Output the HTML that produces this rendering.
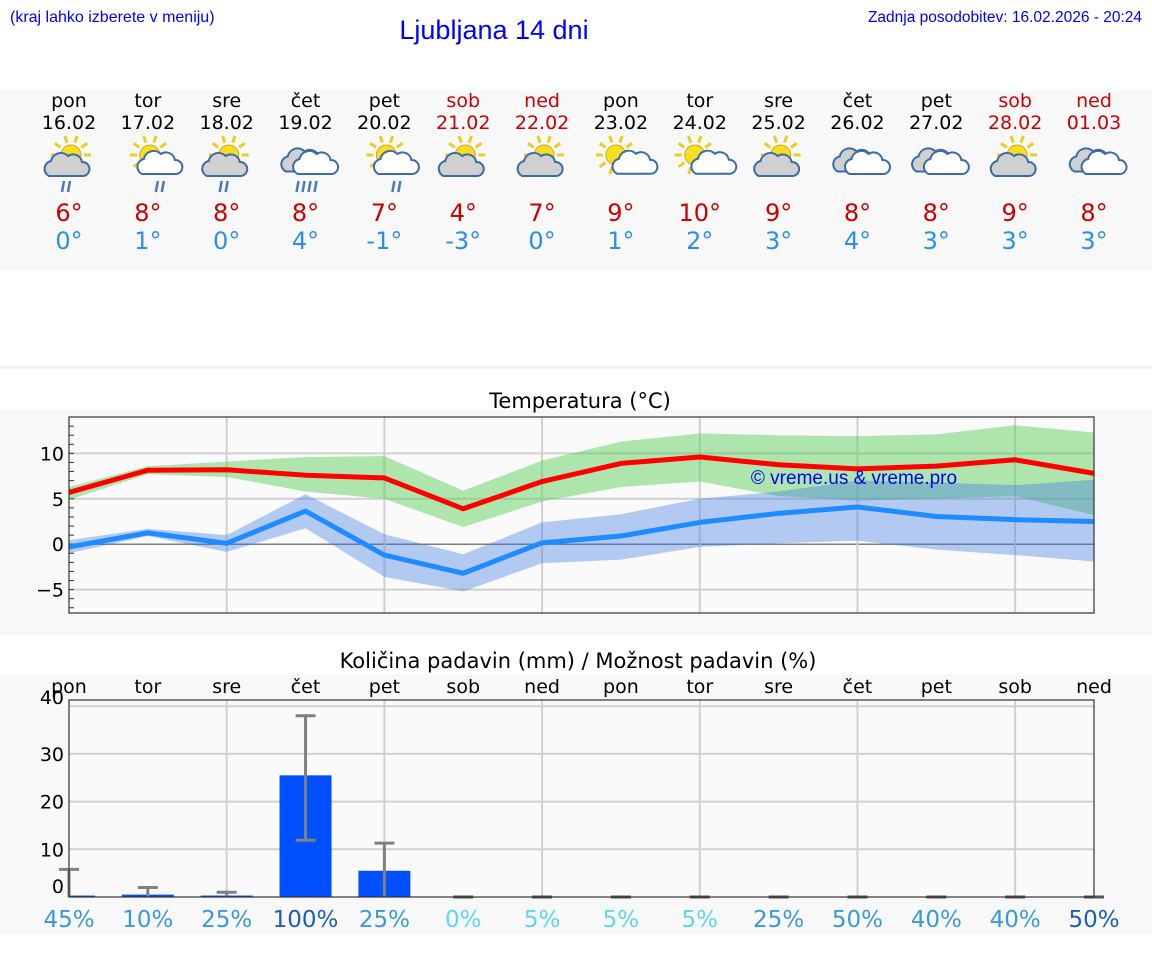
<!DOCTYPE html>
<html><head><meta charset="utf-8">
<style>
body{margin:0;background:#fff;width:1152px;height:975px;overflow:hidden;font-family:"Liberation Sans","DejaVu Sans",sans-serif}
svg{display:block}
</style></head>
<body>
<svg id="s" width="1152" height="975" xmlns="http://www.w3.org/2000/svg" font-family="'DejaVu Sans','Liberation Sans',sans-serif">
<rect x="0" y="90" width="1152" height="180" fill="#f8f8f8"/>
<rect x="0" y="365" width="1152" height="4" fill="#f4f4f4"/>
<rect x="0" y="410" width="1152" height="225" fill="#f8f8f8"/>
<rect x="0" y="675" width="1152" height="260" fill="#f8f8f8"/>
<text x="10" y="22" font-family="'Liberation Sans',sans-serif" font-size="16" fill="#0000ff">(kraj lahko izberete v meniju)</text>
<text x="494" y="39" text-anchor="middle" font-family="'Liberation Sans',sans-serif" font-size="27" fill="#0000ff">Ljubljana 14 dni</text>
<text x="1142" y="22" text-anchor="end" font-family="'Liberation Sans',sans-serif" font-size="15.5" fill="#0000ff">Zadnja posodobitev: 16.02.2026 - 20:24</text>
<text x="580" y="408" text-anchor="middle" font-size="21" fill="#000">Temperatura (°C)</text>
<text x="578" y="668" text-anchor="middle" font-size="21" fill="#000">Količina padavin (mm) / Možnost padavin (%)</text>
<g id="g"></g>
</svg>
<script>
const dayNames=["pon","tor","sre","čet","pet","sob","ned","pon","tor","sre","čet","pet","sob","ned"];
const dates=["16.02","17.02","18.02","19.02","20.02","21.02","22.02","23.02","24.02","25.02","26.02","27.02","28.02","01.03"];
const iconTypes=["sgr","swr","sgr","cr","swr","sg","sg","sw","sw","sg","c","c","sg","c"];
const maxLabels=[6,8,8,8,7,4,7,9,10,9,8,8,9,8];
const minLabels=[0,1,0,4,-1,-3,0,1,2,3,4,3,3,3];
const tMax=[5.7,8.15,8.2,7.6,7.3,3.9,6.9,8.9,9.6,8.75,8.3,8.6,9.3,7.8];
const tMaxHi=[6.3,8.6,9.1,9.6,9.7,5.9,9.2,11.3,12.2,12.0,11.9,12.1,13.1,12.3];
const tMaxLo=[4.9,7.7,7.4,5.8,5.0,1.9,4.7,6.3,6.9,5.3,4.8,5.0,5.3,3.2];
const tMin=[-0.3,1.25,0.1,3.65,-1.2,-3.2,0.15,0.9,2.4,3.4,4.1,3.05,2.7,2.5];
const tMinHi=[0.45,1.7,1.0,5.5,1.1,-1.1,2.4,3.3,5.0,5.8,7.0,6.8,6.5,7.1];
const tMinLo=[-1.0,0.9,-0.85,1.75,-3.6,-5.2,-2.1,-1.7,-0.3,0.1,0.4,-0.6,-1.2,-1.9];
const tTicks=[-5,0,5,10];
const tTickLabels=["\u22125","0","5","10"];
const precip=[0.3,0.5,0.3,25.5,5.5,0,0,0,0,0,0,0,0,0];
const precipHi=[5.8,2.0,1.0,38,11.3,0,0,0,0,0,0,0,0,0];
const precipLo=[0,0,0,11.9,0,0,0,0,0,0,0,0,0,0];
const chance=[45,10,25,100,25,0,5,5,5,25,50,40,40,50];
const pTicks=[10,20,30,40];

const NS="http://www.w3.org/2000/svg";
const G=document.getElementById('g');
function mk(tag,attrs,parent){const e=document.createElementNS(NS,tag);for(const k in attrs)e.setAttribute(k,attrs[k]);(parent||G).appendChild(e);return e;}
const X0=69,X1=1094;
function xD(i){return X0+i*(X1-X0)/13;}
function yT(t){return 544.2-9.08*t;}
function yP(v){return 897-4.77*v;}

dayNames.forEach((d,i)=>{
  const we=(i==5||i==6||i==12||i==13);
  let t=mk('text',{x:xD(i),y:107,'text-anchor':'middle','font-size':19,fill:we?'#cc0000':'#000'});t.textContent=d;
  
  
  t=mk('text',{x:xD(i),y:129,'text-anchor':'middle','font-size':19,fill:we?'#cc0000':'#000'});t.textContent=dates[i];
  
  
  t=mk('text',{x:xD(i),y:221,'text-anchor':'middle','font-size':24,fill:'#cc0000'});t.textContent=maxLabels[i]+'°';
  
  
  t=mk('text',{x:xD(i),y:249,'text-anchor':'middle','font-size':24,fill:'#2a8ff0'});t.textContent=minLabels[i]+'°';
  
  
  drawIcon(xD(i),165,iconTypes[i]);
});
function cloud(g,cx,cy,s,fill){
  mk('path',{d:`M${cx-16*s},${cy+9*s} a8,8 0 0 1 2,-15 a10,10 0 0 1 17,-5 a9,9 0 0 1 14,6 a7,7 0 0 1 1,14 z`,fill:fill,stroke:'#3b6aa8','stroke-width':2},g);
}
function drawIcon(cx,cy,type){
  const g=mk('g',{});
  
  
  if(type[0]=='s'){
    const sx=cx+(type=='sw'?-5:2),sy=cy-10;
    for(let a=0;a<360;a+=36){const r=a*Math.PI/180;mk('line',{x1:sx+13*Math.cos(r),y1:sy+13*Math.sin(r),x2:sx+20*Math.cos(r),y2:sy+20*Math.sin(r),stroke:'#e8d020','stroke-width':3},g);}
    mk('circle',{cx:sx,cy:sy,r:10,fill:'#f4e020',stroke:'#e0a020','stroke-width':1},g);
    if(type=='sgr'||type=='sg') cloud(g,cx-4,cy+2,1,'#d0d0d0');
    else if(type=='swr') cloud(g,cx+10,cy,1,'#fff');
    else cloud(g,cx+8,cy+2,0.75,'#fff');
  } else {
    cloud(g,cx-3,cy-3,1.05,'#d0d0d0');
    cloud(g,cx+8,cy,1,'#fff');
  }
  if(type.endsWith('r')){
    const n=type=='cr'?4:2, bx=type=='swr'?cx+8:(type=='cr'?cx-9:cx-7);
    for(let k=0;k<n;k++) mk('line',{x1:bx+k*6+2,y1:cy+16,x2:bx+k*6,y2:cy+27,stroke:'#4a7ab8','stroke-width':2.5},g);
  }
}

const tc=mk('g',{});


mk('rect',{x:X0,y:417,width:X1-X0,height:196,fill:'#fafafa'},tc);
tTicks.forEach((t,k)=>{
  const l=mk('line',{x1:X0,x2:X1,y1:yT(t),y2:yT(t),stroke:t==0?'#555':'#d0d0d0','stroke-width':t==0?1.2:2},tc);
  
  
  const tx=mk('text',{x:64,y:yT(t)+7,'text-anchor':'end','font-size':19,fill:'#000'},tc);tx.textContent=tTickLabels[k];
  
  
});
for(let i=2;i<13;i+=2){mk('line',{x1:xD(i),x2:xD(i),y1:417,y2:613,stroke:'#d0d0d0','stroke-width':2},tc);}
for(let t=-7;t<=13;t++){mk('line',{x1:X0,x2:X0+5,y1:yT(t),y2:yT(t),stroke:'#333','stroke-width':1},tc);}
function band(hi,lo,fill,name){
  let d='M'+hi.map((v,i)=>xD(i)+','+yT(v)).join(' L');
  d+=' L'+lo.map((v,i)=>xD(i)+','+yT(v)).reverse().join(' L')+' Z';
  const p=mk('path',{d:d,fill:fill},tc);
  
  
}
band(tMaxHi,tMaxLo,'rgba(80,205,80,0.45)','max-temp-range');
band(tMinHi,tMinLo,'rgba(60,120,230,0.38)','min-temp-range');
function line(arr,col,name){
  const p=mk('polyline',{points:arr.map((v,i)=>xD(i)+','+yT(v)).join(' '),fill:'none',stroke:col,'stroke-width':5,'stroke-linejoin':'round'},tc);
  
  
}
line(tMin,'#1e8cff','min-temp-line');
line(tMax,'#ff0000','max-temp-line');
mk('rect',{x:X0,y:417,width:X1-X0,height:196,fill:'none',stroke:'#333','stroke-width':1.2},tc);
let wm=mk('text',{x:854,y:484,'text-anchor':'middle','font-family':"'Liberation Sans',sans-serif",'font-size':19,fill:'#0000ff'},tc);wm.textContent='© vreme.us & vreme.pro';



const pc=mk('g',{});


mk('rect',{x:X0,y:700,width:X1-X0,height:197,fill:'#fafafa'},pc);
pTicks.forEach(v=>{
  const l=mk('line',{x1:X0,x2:X1,y1:yP(v),y2:yP(v),stroke:'#d0d0d0','stroke-width':2},pc);
  
  
  const tx=mk('text',{x:64,y:yP(v)+(v==40?-2:7),'text-anchor':'end','font-size':19,fill:'#000'},pc);tx.textContent=v;
  
  
});
let z=mk('text',{x:64,y:893,'text-anchor':'end','font-size':19,fill:'#000'},pc);z.textContent='0';


for(let i=2;i<13;i+=2){mk('line',{x1:xD(i),x2:xD(i),y1:700,y2:897,stroke:'#d0d0d0','stroke-width':2},pc);}
dayNames.forEach((d,i)=>{
  const t=mk('text',{x:xD(i),y:693,'text-anchor':'middle','font-size':19,fill:'#000'},pc);t.textContent=d;
  
  
});
const chanceCol=c=>c>=50&&c!==50?'#1a5fb4':(c<=5?'#5cd8ee':'#3a9ad8');
precip.forEach((v,i)=>{
  const x=Math.max(X0,xD(i)-26), w=Math.min(X1,xD(i)+26)-x;
  if(v>0){const b=mk('rect',{x:x,y:yP(v),width:w,height:897-yP(v),fill:'#0050ff'},pc);
    
    }
  const e=mk('g',{stroke:'#808080','stroke-width':3},pc);
  
  
  if(precipHi[i]>0) mk('line',{x1:xD(i),x2:xD(i),y1:yP(precipHi[i]),y2:yP(precipLo[i])},e);
  mk('line',{x1:xD(i)-10,x2:xD(i)+10,y1:yP(precipHi[i]),y2:yP(precipHi[i]),stroke:precipHi[i]>0?'#808080':'#555'},e);
  if(precipLo[i]>0) mk('line',{x1:xD(i)-10,x2:xD(i)+10,y1:yP(precipLo[i]),y2:yP(precipLo[i])},e);
  let col=chanceCol(chance[i]); if(i==13||chance[i]==100) col='#1a5fb4';
  const t=mk('text',{x:xD(i),y:927,'text-anchor':'middle','font-size':23,fill:col},pc);t.textContent=chance[i]+'%';
  
  
});
mk('rect',{x:X0,y:700,width:X1-X0,height:197,fill:'none',stroke:'#333','stroke-width':1.2},pc);
</script>
</body></html>
